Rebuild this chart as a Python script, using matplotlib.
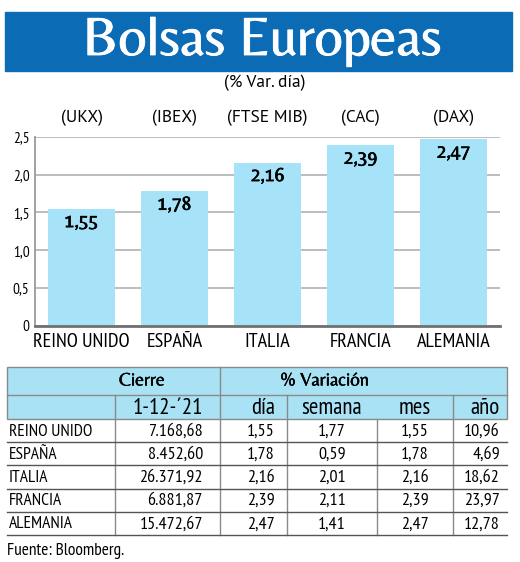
import matplotlib
matplotlib.use('Agg')
import matplotlib.pyplot as plt
import matplotlib.patheffects as pe
from matplotlib.patches import Rectangle

# datos
paises = ['REINO UNIDO', 'ESPAÑA', 'ITALIA', 'FRANCIA', 'ALEMANIA']
indices = ['(UKX)', '(IBEX)', '(FTSE MIB)', '(CAC)', '(DAX)']
var_dia = [1.55, 1.78, 2.16, 2.39, 2.47]
yticks = [0, 0.5, 1.0, 1.5, 2.0, 2.5]
ytick_labels = ['0', '0,5', '1,0', '1,5', '2,0', '2,5']

cierre = ['7.168,68', '8.452,60', '26.371,92', '6.881,87', '15.472,67']
semana = ['1,77', '0,59', '2,01', '2,11', '1,41']
mes = ['1,55', '1,78', '2,16', '2,39', '2,47']
anio = ['10,96', '4,69', '18,62', '23,97', '12,78']

NARROW = ['PT Sans Narrow', 'DejaVu Sans']
HUMAN = ['Belleza', 'Open Sans', 'DejaVu Sans']
PLAIN = ['PT Sans', 'Open Sans', 'DejaVu Sans']

W, H = 520, 562
fig = plt.figure(figsize=(W / 100, H / 100), dpi=100)

# capa en pixeles para banner y tabla
ov = fig.add_axes([0, 0, 1, 1])
ov.set_xlim(0, W)
ov.set_ylim(H, 0)
ov.axis('off')

ov.add_patch(Rectangle((5, 12), 507, 59, color='#0b6bb5'))
ov.text(262, 55, 'Bolsas Europeas', color='white', fontsize=40, family=HUMAN,
        ha='center', va='baseline',
        path_effects=[pe.withStroke(linewidth=0.6, foreground='white')])
ov.text(265, 83, '(% Var. día)', fontsize=12.5, family=PLAIN, ha='center', va='center')

# grafico de barras
ax = fig.add_axes([35 / W, (H - 325.7) / H, 465 / W, 188.7 / H])
x = range(len(paises))
ax.bar(x, var_dia, width=0.72, color='#a6e3f8', zorder=2)
ax.set_xlim(-0.5, 4.5)
ax.set_ylim(0, 2.5)
ax.set_yticks(yticks)
ax.set_yticklabels(ytick_labels, family=NARROW, fontsize=11)
ax.set_xticks(list(x))
ax.set_xticklabels(paises, family=NARROW, fontsize=14.5)
ax.tick_params(length=0, pad=4)
ax.tick_params(axis='x', pad=5)
ax.grid(axis='y', color='#b8b8b8', lw=1.3, zorder=0)
ax.set_axisbelow(True)
for s in ['top', 'right']:
    ax.spines[s].set_visible(False)
ax.spines['left'].set_color('#9a9a9a')
ax.spines['left'].set_linewidth(1.3)
ax.spines['bottom'].set_color('#707070')
ax.spines['bottom'].set_linewidth(2)
ax.spines['bottom'].set_zorder(3)
for i, v in enumerate(var_dia):
    ax.annotate(('%.2f' % v).replace('.', ','), (i, v), xytext=(0, -10),
                textcoords='offset points', ha='center', va='center',
                fontsize=14, family=HUMAN,
                path_effects=[pe.withStroke(linewidth=0.5, foreground='black')])
    ax.annotate(indices[i], (i, 2.5), xytext=(0, 14), textcoords='offset points',
                ha='center', va='center', fontsize=12.5, family=PLAIN,
                annotation_clip=False)

# tabla
y0, y1, y2 = 367, 395, 419
rh = 23.2
ov.add_patch(Rectangle((7, y0), 500, y2 - y0, facecolor='#a8e2f4',
                       edgecolor='#8a8a8a', lw=1))
ov.plot([7, 507], [y1, y1], color='#8a8a8a', lw=1)
ov.plot([220, 220], [y0, y2 + 5 * rh], color='#8a8a8a', lw=1)
for xv in [115, 287, 453]:
    ov.plot([xv, xv], [y1, y2 + 5 * rh], color='#8a8a8a', lw=1)
ov.plot([377, 377], [y2, y2 + 5 * rh], color='#8a8a8a', lw=1)

hdr_fx = [pe.withStroke(linewidth=0.3, foreground='black')]
ov.text(142, (y0 + y1) / 2, 'Cierre', fontsize=13.5, family=HUMAN, ha='center',
        va='center', path_effects=hdr_fx)
ov.text(325, (y0 + y1) / 2, '% Variación', fontsize=13.5, family=HUMAN, ha='center',
        va='center', path_effects=hdr_fx)
hy = (y1 + y2) / 2 + 1
ov.text(203, hy, '1-12-´21', fontsize=16.5, family=NARROW, ha='right', va='center')
ov.text(275, hy, 'día', fontsize=16.5, family=NARROW, ha='right', va='center')
ov.text(332, hy, 'semana', fontsize=16.5, family=NARROW, ha='center', va='center')
ov.text(415, hy, 'mes', fontsize=16.5, family=NARROW, ha='center', va='center')
ov.text(500, hy, 'año', fontsize=16.5, family=NARROW, ha='right', va='center')

for i in range(len(paises)):
    top = y2 + i * rh
    cy = top + rh / 2 + 1
    ov.plot([7, 507], [top + rh, top + rh], color='#555555', lw=1)
    ov.text(9, cy, paises[i], fontsize=12.5, family=NARROW, ha='left', va='center')
    ov.text(203, cy, cierre[i], fontsize=13, family=NARROW, ha='right', va='center')
    ov.text(275, cy, ('%.2f' % var_dia[i]).replace('.', ','), fontsize=13,
            family=NARROW, ha='right', va='center')
    ov.text(332, cy, semana[i], fontsize=13, family=NARROW, ha='center', va='center')
    ov.text(415, cy, mes[i], fontsize=13, family=NARROW, ha='center', va='center')
    ov.text(500, cy, anio[i], fontsize=13, family=NARROW, ha='right', va='center')

ov.text(7, 551, 'Fuente: Bloomberg.', fontsize=12.5, family=NARROW, ha='left', va='center')

fig.savefig('out.png', dpi=100)
